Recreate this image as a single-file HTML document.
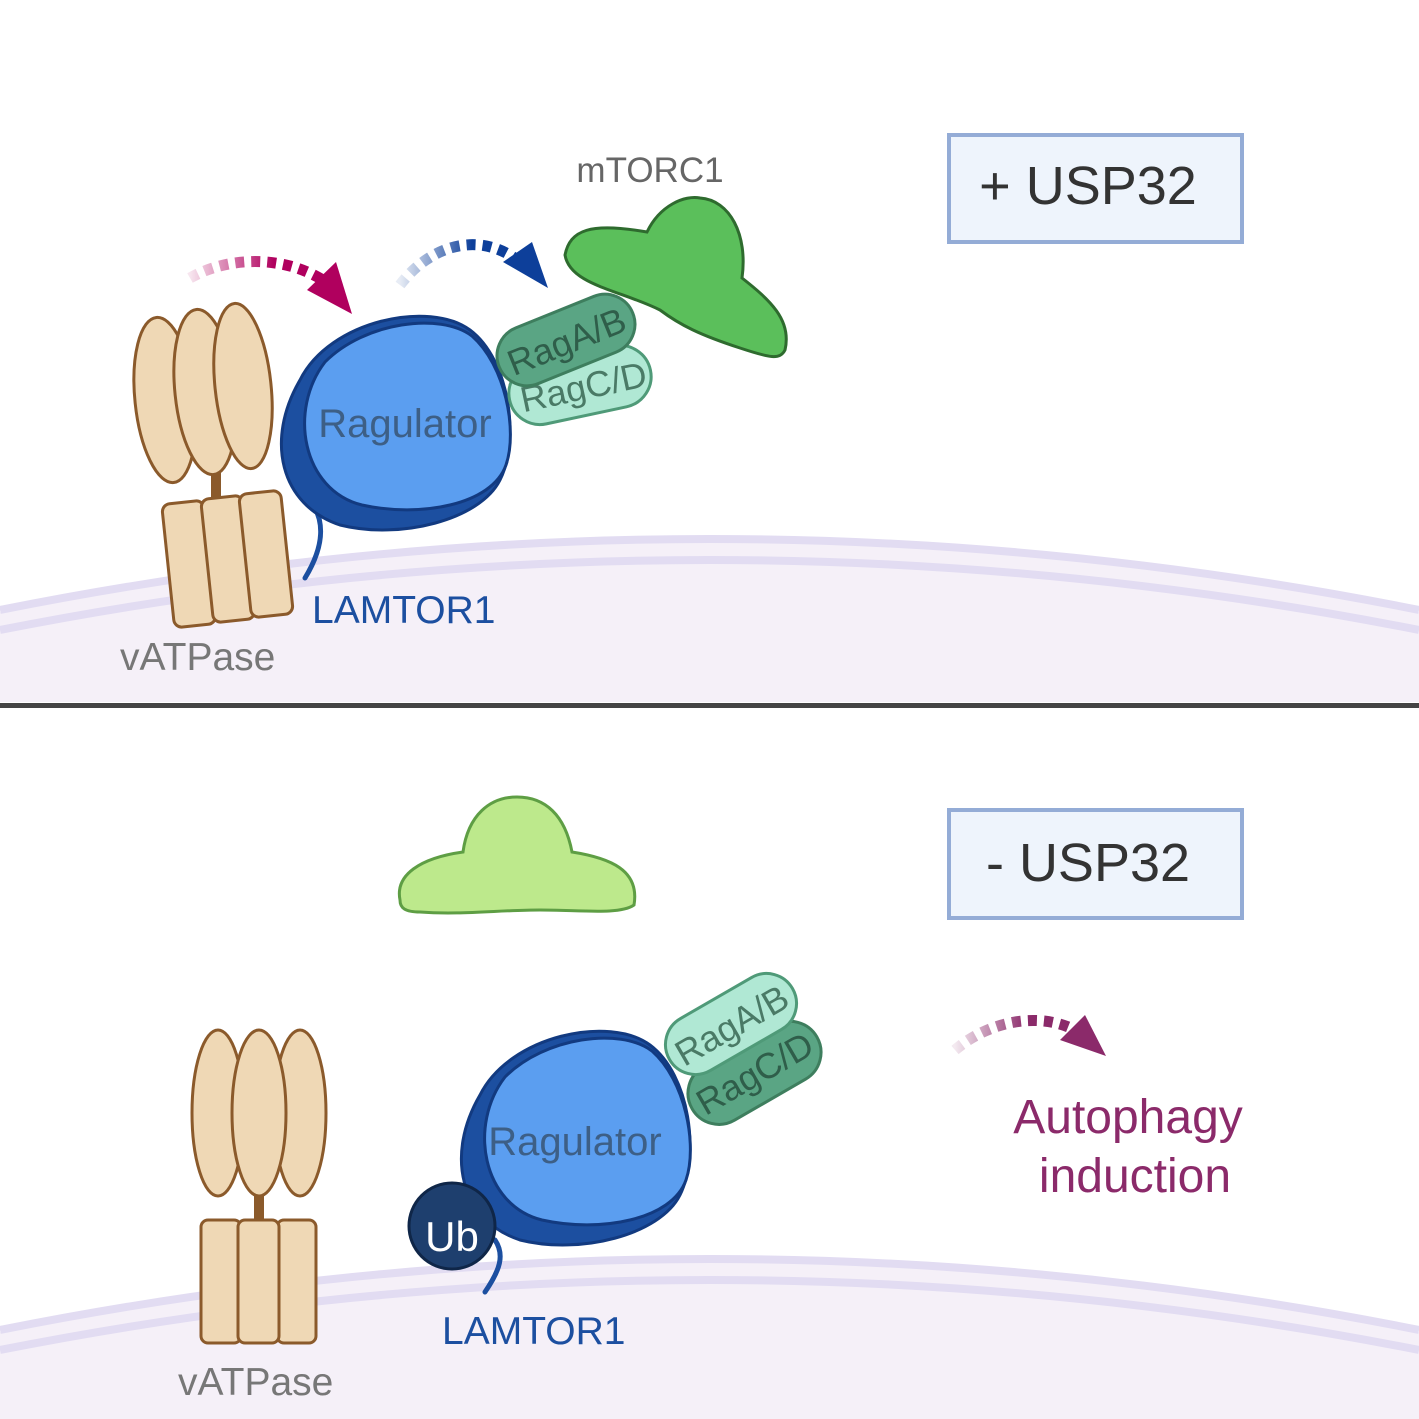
<!DOCTYPE html>
<html><head><meta charset="utf-8"><style>
html,body{margin:0;padding:0;background:#fff}
svg{display:block}
text{font-family:"Liberation Sans",sans-serif}
</style></head><body>
<svg width="1419" height="1419" viewBox="0 0 1419 1419" xmlns="http://www.w3.org/2000/svg">
<defs>
<g id="ragulator">
<path d="M300,380 C330,320 430,300 470,330 C510,360 520,440 500,480 C480,520 400,540 340,525 C280,505 265,440 300,380Z" fill="#1c4fa0" stroke="#123a80" stroke-width="3"/>
<path d="M325,362 C365,322 440,312 472,336 C505,365 518,430 506,465 C492,505 420,518 362,505 C302,490 288,410 325,362Z" fill="#5b9ef0" stroke="#123a80" stroke-width="3"/>
</g>
<linearGradient id="gm" x1="0" x2="1"><stop offset="0" stop-color="#b0005e" stop-opacity="0.1"/><stop offset="0.6" stop-color="#b0005e"/></linearGradient>
<linearGradient id="gb" x1="0" x2="1"><stop offset="0" stop-color="#0d3f9a" stop-opacity="0.1"/><stop offset="0.6" stop-color="#0d3f9a"/></linearGradient>
<linearGradient id="gp" x1="0" x2="1"><stop offset="0" stop-color="#8b2a6a" stop-opacity="0.1"/><stop offset="0.6" stop-color="#8b2a6a"/></linearGradient>
</defs>
<rect width="1419" height="1419" fill="#fff"/>
<path d="M0,612 Q710,470 1419,612 L1419,702 L0,702Z" fill="#f5f0f8"/>
<path d="M0,610 Q710,468 1419,610" fill="none" stroke="#e2dcf2" stroke-width="8"/>
<path d="M0,630 Q710,490 1419,630" fill="none" stroke="#e2dcf2" stroke-width="8"/>
<rect x="0" y="703" width="1419" height="5" fill="#444"/>
<path d="M0,1332 Q710,1190 1419,1332 L1419,1419 L0,1419Z" fill="#f5f0f8"/>
<path d="M0,1330 Q710,1188 1419,1330" fill="none" stroke="#e2dcf2" stroke-width="8"/>
<path d="M0,1350 Q710,1210 1419,1350" fill="none" stroke="#e2dcf2" stroke-width="8"/>

<g fill="#efd8b5" stroke="#8b5a2b" stroke-width="3">
<rect x="211" y="460" width="10" height="45" fill="#8b5a2b" stroke="none"/>
<ellipse cx="165" cy="400" rx="30" ry="83" transform="rotate(-6 165 400)"/>
<ellipse cx="205" cy="392" rx="30" ry="83" transform="rotate(-6 205 392)"/>
<ellipse cx="243" cy="386" rx="28" ry="83" transform="rotate(-6 243 386)"/>
<rect x="168" y="502" width="42" height="124" rx="8" transform="rotate(-6 189 564)"/>
<rect x="207" y="497" width="42" height="124" rx="8" transform="rotate(-6 228 559)"/>
<rect x="245" y="492" width="42" height="124" rx="8" transform="rotate(-6 266 554)"/>
</g>
<path d="M310,500 C325,520 325,545 305,578" fill="none" stroke="#1c4fa0" stroke-width="5" stroke-linecap="round"/>
<use href="#ragulator"/>
<text x="405" y="437" font-size="40" fill="#3d5f86" text-anchor="middle">Ragulator</text>
<path d="M565,255 C570,230 590,222 647,232 C660,205 685,195 700,198 C730,200 748,235 742,278 C770,300 792,320 785,350 C780,360 770,358 740,348 C700,335 680,325 660,310 C620,290 570,285 565,255Z" fill="#5bbf5b" stroke="#2e6b2e" stroke-width="3"/>
<g transform="rotate(-12 580 385)"><rect x="508" y="354" width="144" height="62" rx="31" fill="#b0e8d4" stroke="#4f9a78" stroke-width="3"/>
<text x="583" y="400" font-size="36" fill="#4a7a66" text-anchor="middle">RagC/D</text></g>
<g transform="rotate(-22 566 340)"><rect x="494" y="310" width="144" height="60" rx="30" fill="#5aa584" stroke="#3e7e5e" stroke-width="3"/>
<text x="566" y="354" font-size="36" fill="#2f5e4a" text-anchor="middle">RagA/B</text></g>
<text x="650" y="182" font-size="35" fill="#666" text-anchor="middle">mTORC1</text>
<path d="M190,278 C230,255 290,255 330,285" fill="none" stroke="url(#gm)" stroke-width="11" stroke-dasharray="9 7"/>
<polygon points="307,290 336,262 352,314" fill="#b0005e"/>
<path d="M400,285 C430,245 480,230 520,262" fill="none" stroke="url(#gb)" stroke-width="11" stroke-dasharray="9 7"/>
<polygon points="503,262 532,242 548,288" fill="#0d3f9a"/>
<text x="312" y="623" font-size="39" fill="#1c4fa0">LAMTOR1</text>
<text x="120" y="670" font-size="39" fill="#777">vATPase</text>
<rect x="949" y="135" width="293" height="107" fill="#eef4fc" stroke="#94acd6" stroke-width="4"/>
<text x="1088" y="204" font-size="54" fill="#333" text-anchor="middle">+ USP32</text>

<g fill="#efd8b5" stroke="#8b5a2b" stroke-width="3">
<rect x="254" y="1190" width="10" height="35" fill="#8b5a2b" stroke="none"/>
<ellipse cx="218" cy="1113" rx="26" ry="83"/>
<ellipse cx="300" cy="1113" rx="26" ry="83"/>
<ellipse cx="259" cy="1113" rx="27" ry="83"/>
<rect x="201" y="1220" width="40" height="123" rx="7"/>
<rect x="277" y="1220" width="39" height="123" rx="7"/>
<rect x="238" y="1220" width="41" height="123" rx="7"/>
</g>
<path d="M400,900 C395,875 420,858 463,852 C468,815 490,797 517,797 C545,797 565,815 572,852 C610,858 640,870 634,905 C620,915 580,910 540,910 C500,910 460,915 420,912 C405,912 400,908 400,900Z" fill="#bde98c" stroke="#5e9e44" stroke-width="3"/>
<path d="M495,1240 C505,1255 500,1270 485,1292" fill="none" stroke="#1c4fa0" stroke-width="5" stroke-linecap="round"/>
<use href="#ragulator" transform="translate(180,715)"/>
<text x="575" y="1155" font-size="40" fill="#3d5f86" text-anchor="middle">Ragulator</text>
<g transform="rotate(-30 754 1072)"><rect x="682" y="1042" width="144" height="62" rx="31" fill="#5aa584" stroke="#3e7e5e" stroke-width="3"/>
<text x="754" y="1086" font-size="36" fill="#2f5e4a" text-anchor="middle">RagC/D</text></g>
<g transform="rotate(-30 731 1024)"><rect x="660" y="994" width="142" height="60" rx="30" fill="#b0e8d4" stroke="#4f9a78" stroke-width="3"/>
<text x="731" y="1038" font-size="36" fill="#4a7a66" text-anchor="middle">RagA/B</text></g>
<circle cx="452" cy="1226" r="43" fill="#1e3f6e" stroke="#0f2648" stroke-width="3"/>
<text x="452" y="1251" font-size="42" fill="#fff" text-anchor="middle">Ub</text>
<text x="442" y="1344" font-size="39" fill="#1c4fa0">LAMTOR1</text>
<text x="178" y="1395" font-size="39" fill="#777">vATPase</text>
<rect x="949" y="810" width="293" height="108" fill="#eef4fc" stroke="#94acd6" stroke-width="4"/>
<text x="1088" y="881" font-size="54" fill="#333" text-anchor="middle">- USP32</text>
<path d="M955,1050 C990,1020 1040,1012 1075,1030" fill="none" stroke="url(#gp)" stroke-width="11" stroke-dasharray="9 7"/>
<polygon points="1060,1040 1085,1015 1106,1056" fill="#8b2a6a"/>
<text x="1128" y="1133" font-size="48" fill="#8b2a6a" text-anchor="middle">Autophagy</text>
<text x="1135" y="1192" font-size="48" fill="#8b2a6a" text-anchor="middle">induction</text>
</svg>
</body></html>
